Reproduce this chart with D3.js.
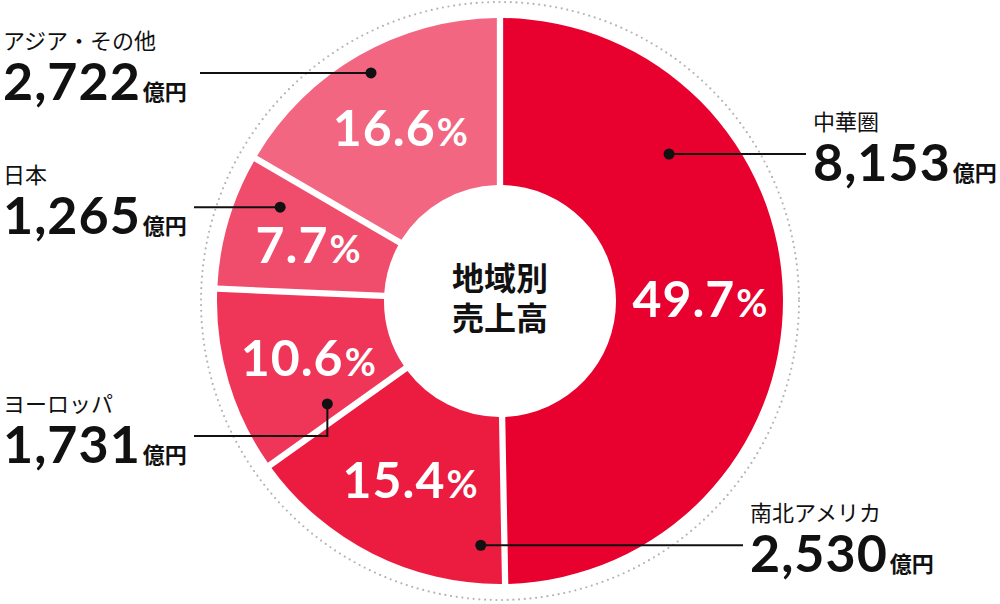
<!DOCTYPE html>
<html lang="ja">
<head>
<meta charset="utf-8">
<script src="https://cdn.jsdelivr.net/npm/d3@7"></script>
<style>
  body { margin: 0; background: #fff; }
  svg { display: block; }
  .name { font-family: "Noto Sans CJK JP", sans-serif; font-size: 22px; fill: #111; }
  .value { font-family: Lato, "Noto Sans", sans-serif; font-weight: 700; fill: #111; }
  .unit { font-family: "Noto Sans CJK JP", sans-serif; font-weight: 700; letter-spacing: 0; }
  .pct { font-family: Lato, "Noto Sans", sans-serif; font-weight: 700; fill: #fff; }
  .center { font-family: "Noto Sans CJK JP", sans-serif; font-weight: 700; font-size: 32px; fill: #111; }
</style>
</head>
<body>
<svg id="chart" width="1000" height="604"></svg>
<script>
// data
const regions = ["中華圏", "南北アメリカ", "ヨーロッパ", "日本", "アジア・その他"];
const sales = [8153, 2530, 1731, 1265, 2722];   // 億円
const unitLabel = "億円";
const centerTitle = ["地域別", "売上高"];

// layout / style
const width = 1000, height = 604;
const cx = 500, cy = 301;
const rOuter = 283, rInner = 116, rRing = 299, rLabel = 200;

const color = d3.scaleOrdinal()
  .domain(regions)
  .range(["#e8002e", "#ec1c41", "#ef3558", "#f04c6c", "#f26681"]);

// where each leader line starts (polar, deg from top) and where it ends
const callouts = [
  { region: "中華圏",         angle: 49,    r: 224, side: "right", endX: 806 },
  { region: "南北アメリカ",   angle: 184.5, r: 245, side: "right", endX: 743 },
  { region: "ヨーロッパ",     angle: 239.2, r: 201, side: "left",  endX: 194, lineY: 436 },
  { region: "日本",           angle: 293.1, r: 239, side: "left",  endX: 194 },
  { region: "アジア・その他", angle: 330.5, r: 262, side: "left",  endX: 200 }
];

const svg = d3.select("#chart");

const total = d3.sum(sales);
const rows = regions.map((name, i) => ({ region: name, sales: sales[i], share: sales[i] / total * 100 }));

const pie = d3.pie().sort(null).value(d => d.sales);
const arcs = pie(rows);

const arc = d3.arc()
  .innerRadius(rInner)
  .outerRadius(rOuter)
  .padAngle(0.021)
  .padRadius(300);

const labelArc = d3.arc().innerRadius(rLabel).outerRadius(rLabel);

const g = svg.append("g").attr("transform", `translate(${cx},${cy})`);

// dotted outer ring
g.append("circle")
  .attr("r", rRing)
  .style("fill", "none")
  .style("stroke", "#b4b4b4")
  .style("stroke-width", 2.2)
  .style("stroke-linecap", "round")
  .style("stroke-dasharray", "0 5.7");

// slices
g.selectAll(".slice")
  .data(arcs)
  .join("path")
  .attr("class", "slice")
  .attr("d", arc)
  .style("fill", d => color(d.data.region));

// percentage labels
let fmt = d3.format(".1f");
let pct = g.selectAll(".pct")
  .data(arcs)
  .join("text")
  .attr("class", "pct")
  .attr("text-anchor", "middle")
  .attr("x", d => labelArc.centroid(d)[0])
  .attr("y", d => labelArc.centroid(d)[1] + 18);

pct.append("tspan").style("font-size", "50px").style("letter-spacing", "1px").text(d => fmt(d.data.share));
pct.append("tspan").style("font-size", "38px").attr("dx", 1).text("%");

// centre title
g.selectAll(".center")
  .data(centerTitle)
  .join("text")
  .attr("class", "center")
  .attr("text-anchor", "middle")
  .attr("y", (d, i) => -11 + i * 40)
  .text(d => d);

// callouts
const byRegion = new Map(rows.map(d => [d.region, d]));

callouts.forEach(c => {
  const a = c.angle * Math.PI / 180;
  const dotX = cx + c.r * Math.sin(a);
  const dotY = cy - c.r * Math.cos(a);
  const lineY = c.lineY !== undefined ? c.lineY : dotY;

  let pts = [[dotX, dotY]];
  if (lineY !== dotY) pts.push([dotX, lineY]);
  pts.push([c.endX, lineY]);

  svg.append("path")
    .attr("d", d3.line()(pts))
    .style("fill", "none")
    .style("stroke", "#111")
    .style("stroke-width", 2);

  svg.append("circle")
    .attr("cx", dotX)
    .attr("cy", dotY)
    .attr("r", 5.5)
    .style("fill", "#111");

  const tx = c.side === "right" ? c.endX + 7 : 3;

  svg.append("text")
    .attr("class", "name")
    .attr("x", tx)
    .attr("y", lineY - 24)
    .text(c.region);

  const v = svg.append("text")
    .attr("class", "value")
    .attr("x", tx)
    .attr("y", lineY + 27);

  v.append("tspan").style("font-size", "52px").style("letter-spacing", "1px").text(d3.format(",")(byRegion.get(c.region).sales));
  v.append("tspan").attr("class", "unit").attr("dx", 2).style("font-size", "22px").text(unitLabel);
});
</script>
</body>
</html>
